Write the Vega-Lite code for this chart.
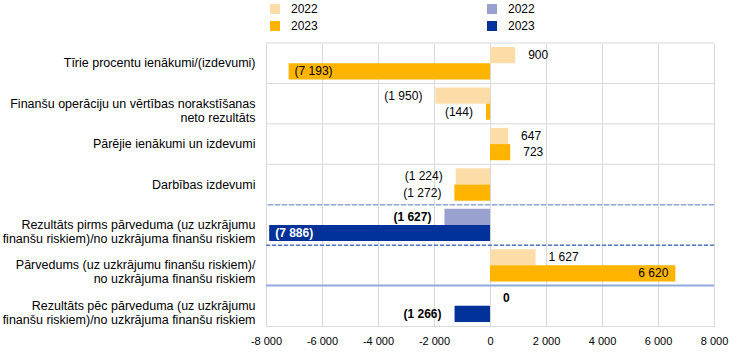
{
  "$schema": "https://vega.github.io/schema/vega-lite/v6.json",
  "width": 448,
  "height": 283,
  "autosize": {"type": "none"},
  "padding": {"left": 266, "top": 43, "right": 30, "bottom": 32},
  "config": {
    "font": "Liberation Sans",
    "view": {"stroke": null},
    "locale": {"number": {"decimal": ",", "thousands": " ", "grouping": [3], "currency": ["", ""], "minus": "-"}}
  },
  "datasets": {
    "main": [
      {"cat": "Tīrie procentu ienākumi/(izdevumi)", "year": "2022", "s": "o", "key": "o2022", "v": 900},
      {"cat": "Tīrie procentu ienākumi/(izdevumi)", "year": "2023", "s": "o", "key": "o2023", "v": -7193},
      {"cat": "Finanšu operāciju un vērtības norakstīšanas|neto rezultāts", "year": "2022", "s": "o", "key": "o2022", "v": -1950},
      {"cat": "Finanšu operāciju un vērtības norakstīšanas|neto rezultāts", "year": "2023", "s": "o", "key": "o2023", "v": -144},
      {"cat": "Pārējie ienākumi un izdevumi", "year": "2022", "s": "o", "key": "o2022", "v": 647},
      {"cat": "Pārējie ienākumi un izdevumi", "year": "2023", "s": "o", "key": "o2023", "v": 723},
      {"cat": "Darbības izdevumi", "year": "2022", "s": "o", "key": "o2022", "v": -1224},
      {"cat": "Darbības izdevumi", "year": "2023", "s": "o", "key": "o2023", "v": -1272},
      {"cat": "Rezultāts pirms pārveduma (uz uzkrājumu|finanšu riskiem)/no uzkrājuma finanšu riskiem", "year": "2022", "s": "b", "key": "b2022", "v": -1627},
      {"cat": "Rezultāts pirms pārveduma (uz uzkrājumu|finanšu riskiem)/no uzkrājuma finanšu riskiem", "year": "2023", "s": "b", "key": "b2023", "v": -7886},
      {"cat": "Pārvedums (uz uzkrājumu finanšu riskiem)/|no uzkrājuma finanšu riskiem", "year": "2022", "s": "o", "key": "o2022", "v": 1627},
      {"cat": "Pārvedums (uz uzkrājumu finanšu riskiem)/|no uzkrājuma finanšu riskiem", "year": "2023", "s": "o", "key": "o2023", "v": 6620},
      {"cat": "Rezultāts pēc pārveduma (uz uzkrājumu|finanšu riskiem)/no uzkrājuma finanšu riskiem", "year": "2022", "s": "b", "key": "b2022", "v": 0},
      {"cat": "Rezultāts pēc pārveduma (uz uzkrājumu|finanšu riskiem)/no uzkrājuma finanšu riskiem", "year": "2023", "s": "b", "key": "b2023", "v": -1266}
    ],
    "dashedA": [
      {"cat": "Rezultāts pirms pārveduma (uz uzkrājumu|finanšu riskiem)/no uzkrājuma finanšu riskiem"}
    ],
    "dashedB": [
      {"cat": "Pārvedums (uz uzkrājumu finanšu riskiem)/|no uzkrājuma finanšu riskiem"}
    ],
    "solid": [
      {"cat": "Rezultāts pēc pārveduma (uz uzkrājumu|finanšu riskiem)/no uzkrājuma finanšu riskiem"}
    ]
  },
  "layer": [
    {
      "data": {"name": "main"},
      "transform": [{"filter": "datum.year == '2022'"}],
      "mark": {"type": "rule", "color": "#D9D9D9", "strokeWidth": 1},
      "encoding": {
        "y": {
          "field": "cat", "type": "nominal", "bandPosition": 0, "title": null,
          "scale": {
            "domain": [
              "Tīrie procentu ienākumi/(izdevumi)",
              "Finanšu operāciju un vērtības norakstīšanas|neto rezultāts",
              "Pārējie ienākumi un izdevumi",
              "Darbības izdevumi",
              "Rezultāts pirms pārveduma (uz uzkrājumu|finanšu riskiem)/no uzkrājuma finanšu riskiem",
              "Pārvedums (uz uzkrājumu finanšu riskiem)/|no uzkrājuma finanšu riskiem",
              "Rezultāts pēc pārveduma (uz uzkrājumu|finanšu riskiem)/no uzkrājuma finanšu riskiem"
            ],
            "paddingInner": 0, "paddingOuter": 0
          },
          "axis": {
            "domain": false, "ticks": false, "grid": false,
            "labelExpr": "split(datum.label, '|')",
            "labelFontSize": 12.5, "labelColor": "#000", "labelPadding": 11,
            "labelLimit": 300, "labelLineHeight": 14, "labelAlign": "right"
          }
        }
      }
    },
    {
      "data": {"name": "main"},
      "encoding": {
        "y": {"field": "cat", "type": "nominal", "title": null},
        "yOffset": {"field": "year", "type": "nominal", "scale": {"paddingInner": 0, "paddingOuter": 0.25}},
        "x": {
          "field": "v", "type": "quantitative", "title": null,
          "scale": {"domain": [-8000, 8000], "nice": false},
          "axis": {
            "values": [-8000, -6000, -4000, -2000, 0, 2000, 4000, 6000, 8000],
            "format": ",.0f", "grid": true, "gridColor": "#D9D9D9",
            "domainColor": "#D9D9D9", "ticks": false, "labelFontSize": 11,
            "labelColor": "#000", "labelPadding": 9, "labelFlush": false
          }
        }
      },
      "layer": [
        {
          "mark": {"type": "bar"},
          "encoding": {
            "color": {
              "field": "key", "type": "nominal",
              "scale": {"domain": ["o2022", "o2023", "b2022", "b2023"], "range": ["#FDDDA7", "#FFB400", "#99A1D1", "#003299"]},
              "legend": {
                "orient": "none", "legendX": 3, "legendY": -40, "columns": 2,
                "columnPadding": 168, "rowPadding": 5, "symbolType": "square",
                "symbolSize": 100, "symbolStrokeWidth": 0, "labelFontSize": 12,
                "labelColor": "#000", "labelOffset": 10, "title": null, "padding": 0,
                "labelExpr": "slice(datum.label, 1)"
              }
            }
          }
        },
        {
          "transform": [{"filter": "datum.s == 'o' && datum.v >= 0 && datum.v < 5000"}],
          "mark": {"type": "text", "align": "left", "dx": 13, "fontSize": 12, "color": "#000"},
          "encoding": {"text": {"field": "v", "type": "quantitative", "format": "(,.0f"}}
        },
        {
          "transform": [{"filter": "datum.s == 'o' && datum.v < 0 && datum.v > -5000"}],
          "mark": {"type": "text", "align": "right", "dx": -13, "fontSize": 12, "color": "#000"},
          "encoding": {"text": {"field": "v", "type": "quantitative", "format": "(,.0f"}}
        },
        {
          "transform": [{"filter": "datum.s == 'o' && datum.v <= -5000"}],
          "mark": {"type": "text", "align": "left", "dx": 6, "fontSize": 12, "color": "#000"},
          "encoding": {"text": {"field": "v", "type": "quantitative", "format": "(,.0f"}}
        },
        {
          "transform": [{"filter": "datum.s == 'o' && datum.v >= 5000"}],
          "mark": {"type": "text", "align": "right", "dx": -7, "fontSize": 12, "color": "#000"},
          "encoding": {"text": {"field": "v", "type": "quantitative", "format": "(,.0f"}}
        },
        {
          "transform": [{"filter": "datum.s == 'b' && datum.v >= 0"}],
          "mark": {"type": "text", "align": "left", "dx": 13, "fontSize": 12, "fontWeight": "bold", "color": "#000"},
          "encoding": {"text": {"field": "v", "type": "quantitative", "format": "(,.0f"}}
        },
        {
          "transform": [{"filter": "datum.s == 'b' && datum.v < 0 && datum.v > -5000"}],
          "mark": {"type": "text", "align": "right", "dx": -13, "fontSize": 12, "fontWeight": "bold", "color": "#000"},
          "encoding": {"text": {"field": "v", "type": "quantitative", "format": "(,.0f"}}
        },
        {
          "transform": [{"filter": "datum.s == 'b' && datum.v <= -5000"}],
          "mark": {"type": "text", "align": "left", "dx": 6, "fontSize": 12, "fontWeight": "bold", "color": "#FFFFFF"},
          "encoding": {"text": {"field": "v", "type": "quantitative", "format": "(,.0f"}}
        }
      ]
    },
    {
      "data": {"name": "dashedA"},
      "mark": {"type": "rule", "color": "#8FA8DA", "strokeWidth": 1.5, "strokeDash": [5, 2]},
      "encoding": {"y": {"field": "cat", "type": "nominal", "bandPosition": 0, "title": null}}
    },
    {
      "data": {"name": "dashedB"},
      "mark": {"type": "rule", "color": "#5079C8", "strokeWidth": 1.5, "strokeDash": [4, 2]},
      "encoding": {"y": {"field": "cat", "type": "nominal", "bandPosition": 0, "title": null}}
    },
    {
      "data": {"name": "solid"},
      "mark": {"type": "rule", "color": "#8FAADC", "strokeWidth": 2},
      "encoding": {"y": {"field": "cat", "type": "nominal", "bandPosition": 0, "title": null}}
    }
  ]
}
